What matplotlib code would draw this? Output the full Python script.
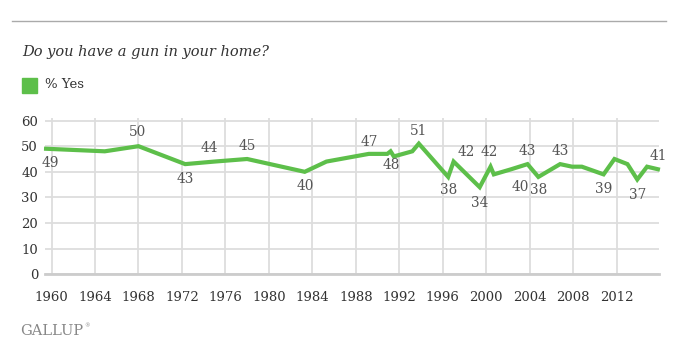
import matplotlib
matplotlib.use("Agg")
import matplotlib.pyplot as plt

# Gallup: "Do you have a gun in your home?" - % Yes
years = [1959.5, 1964.9, 1968.0, 1972.3, 1975.0, 1978.0, 1983.3, 1985.3, 1986.6,
         1989.2, 1990.9, 1991.2, 1991.5, 1993.2, 1993.8, 1996.5, 1997.0, 1999.4,
         2000.4, 2000.7, 2002.3, 2003.8, 2004.8, 2006.8, 2007.9, 2008.8, 2010.8,
         2011.8, 2013.0, 2013.9, 2014.8, 2015.8]
pct_yes = [49, 48, 50, 43, 44, 45, 40, 44, 45,
           47, 47, 48, 46, 48, 51, 38, 44, 34,
           42, 39, 41, 43, 38, 43, 42, 42, 39,
           45, 43, 37, 42, 41]

# data labels: text and index of the point it belongs to
label_text = ["49", "50", "43", "44", "45", "40", "47", "48", "51", "38",
              "42", "34", "42", "40", "43", "38", "43", "39", "37", "41"]
label_idx = [0, 2, 3, 4, 5, 6, 9, 11, 14, 15,
             16, 17, 18, 20, 21, 22, 23, 26, 29, 31]
label_off = [(4, -14), (-1, 14), (0, -15), (-5, 14), (0, 13), (1, -14), (0, 12),
             (1, -14), (0, 13), (0, -13), (13, 10), (0, -16), (-1, 15), (9, -18),
             (0, 13), (0, -13), (0, 13), (0, -15), (0, -16), (0, 13)]

x_ticks = list(range(1960, 2013, 4))
y_ticks = list(range(0, 61, 10))

GREEN = "#5dbf4a"
SERIF = ["DejaVu Serif"]

fig = plt.figure(figsize=(6.78, 3.47), dpi=100)
ax = fig.add_axes([45 / 678, 1 - 274.3 / 347, (659 - 45) / 678, (274.3 - 118) / 347])

ax.plot(years, pct_yes, color=GREEN, lw=3, solid_joinstyle="miter", zorder=3, clip_on=False)

for txt, i, (dx, dy) in zip(label_text, label_idx, label_off):
    ax.annotate(txt, (years[i], pct_yes[i]), xytext=(dx, dy), textcoords="offset pixels",
                ha="center", va="center", fontsize=9.8, color="#555555", family=SERIF,
                zorder=4)

ax.set_xlim(1959.4, 2015.9)
ax.set_ylim(0, 61)
ax.set_xticks(x_ticks)
ax.set_yticks(y_ticks)
ax.grid(True, color="#dddddd", lw=1.3)
ax.set_axisbelow(True)
for s in ["top", "right", "left"]:
    ax.spines[s].set_visible(False)
ax.spines["bottom"].set_color("#cccccc")
ax.spines["bottom"].set_linewidth(2)
ax.tick_params(length=0, labelsize=9.5, colors="#333333", pad=5)
ax.tick_params(axis="x", pad=12)
for lbl in ax.get_xticklabels() + ax.get_yticklabels():
    lbl.set_family(SERIF)

# header and footer
fig.add_artist(plt.Line2D([12 / 678, 666 / 678], [1 - 21 / 347] * 2, color="#aaaaaa", lw=1))
fig.text(22 / 678, 1 - 52 / 347, "Do you have a gun in your home?", fontsize=10.5,
         style="italic", family=SERIF, color="#333333", va="center")
fig.add_artist(plt.Rectangle((22 / 678, 1 - 93 / 347), 15 / 678, 15 / 347, color=GREEN))
fig.text(45 / 678, 1 - 85 / 347, "% Yes", fontsize=9.5, family=SERIF, color="#333333", va="center")
fig.text(20 / 678, 1 - 331 / 347, "GALLUP", fontsize=10.5, family=SERIF, color="#888888", va="center")
fig.text(84 / 678, 1 - 326 / 347, "®", fontsize=4, family=SERIF, color="#888888", va="center")

fig.savefig("out.png", dpi=100)
